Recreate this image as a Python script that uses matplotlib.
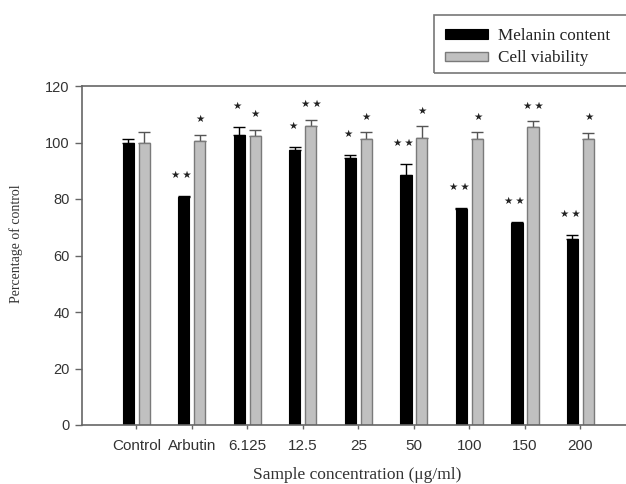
import matplotlib
matplotlib.use("Agg")
import matplotlib.pyplot as plt
from matplotlib.patches import Rectangle
import numpy as np

categories = ["Control", "Arbutin", "6.125", "12.5", "25", "50", "100", "150", "200"]
melanin = [100, 80.7, 102.5, 97.2, 94.6, 88.6, 76.6, 71.4, 65.8]
melanin_err = [1.1, 0.3, 3.0, 1.1, 1.0, 3.8, 0.3, 0.4, 1.3]
viability = [100, 100.4, 102.2, 106.0, 101.2, 101.6, 101.2, 105.5, 101.2]
viability_err = [3.8, 2.3, 2.4, 2.0, 2.4, 4.2, 2.4, 2.0, 2.3]
melanin_sig = ["", "**", "*", "*", "*", "**", "**", "**", "**"]
viability_sig = ["", "*", "*", "**", "*", "*", "*", "**", "*"]

W, H = 626, 484
fig = plt.figure(figsize=(W / 100, H / 100), dpi=100)
ax_w_px = W + 2 - 82
ax = fig.add_axes([82 / W, 1 - 425 / H, ax_w_px / W, (425 - 86) / H])

x = np.arange(len(categories))
w = 0.2
off = 0.144
ax.bar(x - off, melanin, w, color="black", edgecolor="black", linewidth=0.8,
       label="Melanin content", zorder=2)
ax.bar(x + off, viability, w, color="#c0c0c0", edgecolor="#7a7a7a", linewidth=1.0,
       label="Cell viability", zorder=2)
ax.errorbar(x - off, melanin, yerr=[np.zeros(len(x)), melanin_err], fmt="none",
            ecolor="black", elinewidth=1.0, capsize=4.3, capthick=1.0, zorder=1)
ax.errorbar(x + off, viability, yerr=[np.zeros(len(x)), viability_err], fmt="none",
            ecolor="#555555", elinewidth=1.0, capsize=4.3, capthick=1.0, zorder=1)

star_font = ["DejaVu Sans"]
for i in range(len(x)):
    if melanin_sig[i]:
        s = "\u2009".join(["\u2605"] * len(melanin_sig[i]))
        ax.text(x[i] - off - 0.04, melanin[i] + melanin_err[i] + 7.5, s,
                ha="center", va="center", fontsize=7.5, color="#222222",
                family=star_font)
    if viability_sig[i]:
        s = "\u2009".join(["\u2605"] * len(viability_sig[i]))
        ax.text(x[i] + off, viability[i] + viability_err[i] + 5.5, s,
                ha="center", va="center", fontsize=7.5, color="#222222",
                family=star_font)

ax.set_ylim(0, 120)
ax.set_xlim(-0.98, 8.856)
ax.set_yticks([0, 20, 40, 60, 80, 100, 120])
ax.set_xticks(x)
ax.set_xticklabels(categories)
for sp in ["left", "bottom", "top", "right"]:
    ax.spines[sp].set_color("#666666")
    ax.spines[sp].set_linewidth(1.2)
ax.tick_params(axis="y", direction="out", length=5, width=1.0, color="#666666",
               labelsize=10.5, labelcolor="#333333", pad=4)
ax.tick_params(axis="x", direction="out", length=3, width=1.0, color="#666666",
               labelsize=11, labelcolor="#333333", pad=7)
for lab in ax.get_xticklabels() + ax.get_yticklabels():
    lab.set_family("Liberation Sans")

ax.set_ylabel("Percentage of control", family="Liberation Serif", fontsize=10,
              color="#333333")
ax.yaxis.set_label_coords((23 - 82) / ax_w_px, 0.535)
ax.set_xlabel("Sample concentration (\u03bcg/ml)", family="Liberation Serif",
              fontsize=12.5, color="#333333")
ax.xaxis.set_label_coords((357.5 - 82) / ax_w_px, -0.123)

leg = fig.legend(loc="upper left", bbox_to_anchor=(445 / W, 1 - 28 / H),
                 prop={"family": "Liberation Serif", "size": 12.3},
                 frameon=False, handlelength=2.5, handleheight=0.45,
                 borderpad=0, labelspacing=0.37, handletextpad=0.62,
                 borderaxespad=0)
for t in leg.get_texts():
    t.set_color("#222222")
fig.patches.append(Rectangle((434 / W, 1 - 73 / H), 200 / W, 58 / H,
                             transform=fig.transFigure, fill=False,
                             edgecolor="#777777", linewidth=1.2))

fig.savefig("out.png", dpi=100)
